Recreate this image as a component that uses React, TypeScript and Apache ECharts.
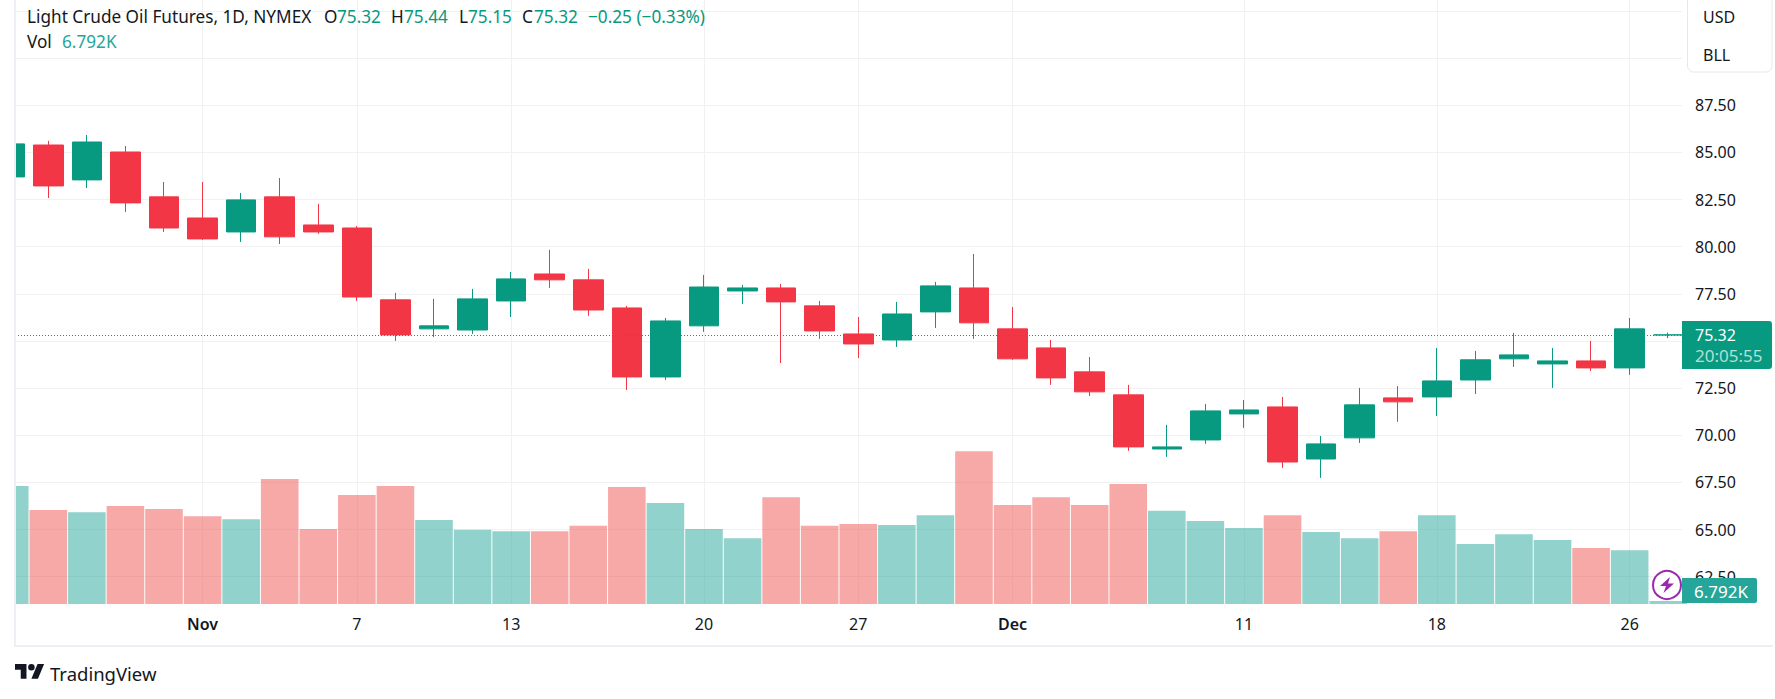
import React, { useEffect, useRef } from 'react'
import * as echarts from 'echarts'

// daily candles, index -1 is the one cut off by the left edge
const opens = [83.7, 85.39, 83.54, 85.02, 82.64, 81.52, 80.78, 82.64, 81.15, 80.99, 77.18, 75.64, 75.58, 77.12, 78.55, 78.24, 76.75, 73.09, 75.8, 77.65, 77.81, 76.86, 75.37, 75.05, 76.54, 77.81, 75.64, 74.63, 73.36, 72.14, 69.27, 69.75, 71.13, 71.5, 68.74, 69.86, 71.98, 72.03, 72.93, 74.05, 73.78, 73.94, 73.57, 75.32]
const closes = [85.45, 83.22, 85.55, 82.32, 80.99, 80.41, 82.48, 80.52, 80.78, 77.33, 75.32, 75.8, 77.23, 78.29, 78.24, 76.64, 73.09, 76.06, 77.86, 77.81, 77.07, 75.53, 74.84, 76.43, 77.92, 75.96, 74.05, 73.04, 72.3, 69.38, 69.38, 71.29, 71.34, 68.58, 69.54, 71.61, 71.77, 72.88, 74.0, 74.26, 73.94, 73.57, 75.64, 75.32]
const lows = [83.6, 82.58, 83.11, 81.84, 80.78, 80.36, 80.25, 80.14, 80.68, 77.12, 75.0, 75.21, 75.37, 76.27, 77.81, 76.33, 72.4, 72.93, 75.48, 76.96, 73.83, 75.11, 74.1, 74.68, 75.69, 75.11, 74.0, 72.67, 72.08, 69.17, 68.85, 69.54, 70.39, 68.27, 67.74, 69.59, 70.71, 71.02, 72.19, 73.62, 72.51, 73.41, 73.2, 75.15]
const highs = [85.6, 85.61, 85.92, 85.34, 83.43, 83.43, 82.85, 83.64, 82.27, 81.1, 77.55, 77.23, 77.76, 78.66, 79.83, 78.82, 76.86, 76.22, 78.5, 77.97, 78.02, 77.12, 76.27, 77.07, 78.13, 79.61, 76.8, 75.05, 74.15, 72.67, 70.55, 71.66, 71.87, 72.03, 69.96, 72.51, 72.61, 74.63, 74.47, 75.43, 74.63, 75.0, 76.22, 75.44]
const volumes = [267, 213, 208, 222, 215, 199, 192, 283, 170, 247, 267, 190, 168, 165, 165, 177, 265, 229, 170, 149, 242, 177, 181, 179, 201, 346, 224, 242, 224, 272, 211, 188, 172, 201, 163, 149, 165, 201, 136, 158, 145, 127, 122, 6.792]

const timeTicks = [4, 8, 12, 17, 21, 25, 31, 36, 41]
const timeLabels = ['Nov', '7', '13', '20', '27', 'Dec', '11', '18', '26']
// 75.00 sits under the last price tag, so it only gets a grid line
const priceLabels = [62.5, 65, 67.5, 70, 72.5, 77.5, 80, 82.5, 85, 87.5]
const priceLines = [...priceLabels, 75, 90, 92.5]
const lastPrice = 75.32

const UP = '#089981'
const DOWN = '#F23645'
const TEXT = '#131722'
const FONT = '"Noto Sans", sans-serif'
const BORDER = '#EEEEF4'

echarts.graphic.registerShape('tvLogo', echarts.graphic.extendPath('M14 22H7V11H0V4h14v18zM28 22h-8l7.5-18h8L28 22zM24 8a4 4 0 1 1-8 0a4 4 0 1 1 8 0z', {}))
echarts.graphic.registerShape('bolt', echarts.graphic.extendPath('M10 0L0 9H6L3.5 16L14 6.5H8L10 0z', {}))

const label = (text: string, x: number, y: number, fill = TEXT, fontSize = 17.2) => ({
  type: 'text',
  x,
  y,
  z: 10,
  style: { text, fill, fontSize, fontFamily: FONT, verticalAlign: 'middle' }
})

const App: React.FC = () => {
  const chartRef = useRef<HTMLDivElement>(null)

  useEffect(() => {
    document.body.style.margin = '0'
    if (!chartRef.current) return
    const chart = echarts.init(chartRef.current, undefined, { renderer: 'svg' })

    const option: any = {
      animation: false,
      backgroundColor: '#FFFFFF',
      grid: { left: 15, right: 93, top: 0, bottom: 95 },
      xAxis: {
        type: 'value',
        min: -0.8634,
        max: 42.357,
        axisLine: { show: false },
        axisTick: { show: false, customValues: timeTicks },
        splitLine: { show: true, lineStyle: { color: '#F1F1F3', width: 1 } },
        axisLabel: {
          customValues: timeTicks,
          margin: 12,
          fontSize: 16,
          color: TEXT,
          fontFamily: FONT,
          formatter: (v: number) => {
            const text = timeLabels[timeTicks.indexOf(v)]
            return isNaN(Number(text)) ? `{month|${text}}` : text
          },
          rich: { month: { fontSize: 16, fontWeight: 600, color: TEXT, fontFamily: FONT } }
        }
      },
      yAxis: [
        {
          type: 'value',
          position: 'right',
          min: 61.05,
          max: 93.08,
          axisLine: { show: false },
          axisTick: { show: false, customValues: priceLines },
          splitLine: { show: true, lineStyle: { color: '#F1F1F3', width: 1 } },
          axisLabel: {
            customValues: priceLabels,
            margin: 13,
            fontSize: 16,
            color: TEXT,
            fontFamily: FONT,
            padding: [0, 0, 2, 0],
            formatter: (v: number) => v.toFixed(2)
          }
        },
        { type: 'value', show: false, min: 0, max: 1368, splitLine: { show: false } }
      ],
      series: [
        {
          type: 'bar',
          yAxisIndex: 1,
          barWidth: 37.6,
          clip: true,
          data: volumes.map((v, i) => ({
            value: [i - 1, v],
            itemStyle: { color: closes[i] >= opens[i] ? 'rgba(38,166,154,0.5)' : 'rgba(239,83,80,0.5)' }
          }))
        },
        {
          type: 'candlestick',
          barWidth: 30,
          clip: true,
          itemStyle: {
            color: UP,
            color0: DOWN,
            borderColor: UP,
            borderColor0: DOWN,
            borderColorDoji: UP,
            borderWidth: 1
          },
          data: opens.map((o, i) => [i - 1, o, closes[i], lows[i], highs[i]]),
          markLine: {
            silent: true,
            symbol: ['none', 'none'],
            label: { show: false },
            lineStyle: { color: UP, width: 1, type: [1, 2] },
            data: [{ yAxis: lastPrice }]
          }
        }
      ],
      graphic: [
        // hides what the cut-off first candle and bar leave left of the frame
        { type: 'rect', z: 8, shape: { x: 0, y: 0, width: 15, height: 646 }, style: { fill: '#FFFFFF' } },
        // chart frame
        { type: 'rect', z: 9, shape: { x: 14, y: 0, width: 2, height: 646 }, style: { fill: BORDER } },
        { type: 'rect', z: 9, shape: { x: 14, y: 645, width: 1759, height: 2 }, style: { fill: BORDER } },
        // header
        label('Light Crude Oil Futures, 1D, NYMEX', 27, 16),
        label('O', 324, 16),
        label('75.32', 337, 16, UP),
        label('H', 391, 16),
        label('75.44', 404, 16, UP),
        label('L', 459, 16),
        label('75.15', 468, 16, UP),
        label('C', 522, 16),
        label('75.32', 534, 16, UP),
        label('−0.25 (−0.33%)', 588, 16, UP),
        label('Vol', 27, 41),
        label('6.792K', 62, 41, '#26A69A'),
        // unit box
        {
          type: 'rect', z: 10,
          shape: { x: 1687.5, y: -6, width: 84.5, height: 78, r: 6 },
          style: { fill: '#FFFFFF', stroke: '#E6E8EE', lineWidth: 1 }
        },
        label('USD', 1703, 17, TEXT, 16),
        label('BLL', 1703, 55, TEXT, 16),
        // last price tag
        {
          type: 'rect', z: 10,
          shape: { x: 1682, y: 321, width: 90, height: 48, r: [0, 3, 3, 0] },
          style: { fill: UP }
        },
        label('75.32', 1695, 335, '#FFFFFF', 16),
        label('20:05:55', 1695, 355, 'rgba(255,255,255,0.7)', 17),
        // volume tag
        {
          type: 'rect', z: 10,
          shape: { x: 1682, y: 578, width: 75, height: 25, r: [0, 2, 2, 0] },
          style: { fill: '#26A69A' }
        },
        label('6.792K', 1694, 591, '#FFFFFF', 17),
        {
          type: 'circle', z: 11,
          shape: { cx: 1667, cy: 585, r: 14 },
          style: { fill: '#FFFFFF', stroke: '#9C27B0', lineWidth: 2 }
        },
        { type: 'bolt', z: 12, x: 1660, y: 577, style: { fill: '#9C27B0' } },
        // footer logo
        { type: 'tvLogo', z: 10, x: 15, y: 660.7, scaleX: 0.82, scaleY: 0.82, style: { fill: TEXT } },
        label('TradingView', 50, 673, TEXT, 18.5)
      ]
    }

    chart.setOption(option)
    return () => chart.dispose()
  }, [])

  return <div ref={chartRef} style={{ width: 1775, height: 699 }} />
}

export default App
